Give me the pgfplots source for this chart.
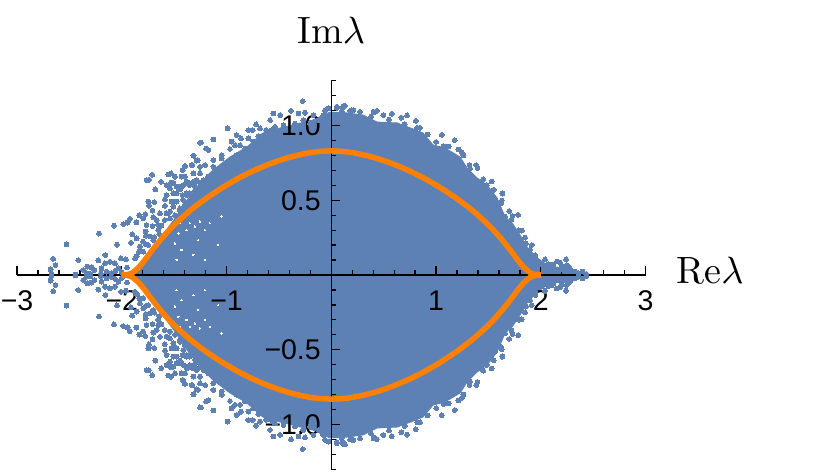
\documentclass[border=0pt]{standalone}
\usepackage{pgfplots}
\usepackage{pgfplotstable}
\usepackage{fontspec}
\newfontfamily\tickfont{Liberation Sans}
\pgfplotsset{compat=1.18}
\definecolor{mblue}{rgb}{0.368,0.507,0.710}
\definecolor{morange}{rgb}{1,0.5,0}
% outline of the solid part of the cloud (upper half plane; eigenvalues come in conjugate pairs)
\pgfplotstableread{
re im
2.440 0
2.278 0.047
2.087 0.054
1.964 0.114
1.868 0.187
1.801 0.268
1.725 0.348
1.658 0.388
1.582 0.515
1.486 0.602
1.391 0.649
1.295 0.716
1.229 0.789
1.085 0.849
0.971 0.870
0.875 0.950
0.780 0.977
0.627 1.017
0.436 1.023
0.302 1.070
0.150 1.084
-0.012 1.090
-0.175 1.037
-0.490 0.983
-0.652 0.950
-0.805 0.856
-0.967 0.789
-1.129 0.702
-1.253 0.615
-1.378 0.500
-1.500 0.370
-1.640 0.240
-1.800 0.090
-1.940 0
}\outline
% places inside the cloud where the background shows through
\pgfplotstableread{
re im
-1.349 0.346
-1.206 0.301
-1.270 0.234
-1.079 0.201
-1.460 0.279
-1.381 0.301
-1.492 0.212
-1.429 0.168
-1.476 0.101
-1.317 0.134
-1.206 0.101
-1.158 0.346
-1.047 0.391
-1.301 0.324
-1.445 0.346
-1.254 0.357
}\gaps
% individual eigenvalues outside the solid part
\pgfplotstableread{
re im
-2.527 0.205
-2.654 0.109
-2.632 0.067
-2.679 0.038
-2.415 0.100
-2.218 0.277
-2.075 0.330
-2.046 0.203
-2.157 0.134
-2.224 0.098
-2.161 0.078
-2.329 0.056
-2.368 0.034
-2.288 0.051
-2.262 0.034
-2.193 0.045
-2.113 0.089
-2.065 0.078
-2.008 0.112
-1.960 0.105
-1.874 0.112
-1.858 0.127
-1.912 0.216
-1.858 0.245
-1.900 0.272
-1.833 0.156
-1.795 0.156
-1.769 0.207
-1.769 0.261
-1.772 0.290
-1.986 0.341
-1.944 0.350
-1.922 0.375
-1.861 0.352
-1.833 0.399
-1.795 0.379
-1.776 0.408
-1.763 0.335
-1.706 0.430
-1.699 0.386
-1.667 0.368
-1.651 0.335
-1.706 0.328
-1.620 0.330
-1.690 0.252
-1.642 0.274
-1.747 0.491
-1.690 0.488
-1.741 0.464
-1.680 0.573
-1.763 0.636
-1.741 0.636
-1.709 0.671
-1.623 0.624
-1.556 0.673
-1.530 0.680
-1.572 0.602
-1.530 0.618
-1.492 0.658
-1.429 0.658
-1.419 0.702
-1.397 0.729
-1.327 0.736
-1.314 0.798
-1.273 0.769
-1.254 0.885
-1.508 0.613
-1.445 0.573
-1.381 0.624
-1.349 0.613
-1.476 0.546
-1.419 0.535
-1.572 0.535
-1.588 0.506
-1.524 0.491
-1.476 0.491
-1.413 0.502
-1.349 0.546
-1.301 0.591
-1.588 0.462
-1.508 0.457
-1.445 0.446
-1.540 0.424
-1.381 0.468
-1.317 0.491
-1.286 0.636
-1.254 0.680
-2.441 0.003
-2.336 0.011
-2.670 0.007
-2.145 0.022
-2.033 0.045
-2.065 0.025
-2.300 0.008
-2.200 0.010
-2.100 0.012
-2.000 0.020
-1.950 0.050
-1.795 0.223
-1.747 0.201
-1.699 0.234
-1.827 0.190
-1.588 0.368
-1.540 0.379
-1.492 0.401
-1.636 0.413
-1.572 0.413
-1.445 0.435
-1.397 0.468
-1.333 0.535
-1.286 0.546
-1.381 0.546
-1.508 0.546
-1.651 0.301
-1.731 0.257
-1.476 0.591
-1.429 0.591
-1.540 0.580
-0.273 1.164
-0.553 1.081
-0.489 1.070
-0.384 1.099
-0.314 1.081
-0.251 1.086
-0.989 0.981
-1.126 0.907
-1.244 0.887
-1.196 0.847
-1.317 0.798
-1.396 0.729
-1.419 0.702
-1.285 0.765
-1.174 0.836
-1.046 0.802
-1.126 0.769
-0.903 0.936
-0.792 0.970
-0.718 1.008
-0.750 0.970
-0.585 1.037
-0.680 0.981
-0.862 0.914
-0.951 0.892
-0.792 0.914
-0.696 0.930
-0.967 0.843
-0.871 0.869
-0.919 0.869
-1.333 0.736
-1.253 0.680
-1.205 0.736
-1.126 0.724
-1.046 0.780
-1.396 0.658
-1.317 0.624
-1.221 0.635
-1.301 0.568
-1.380 0.535
-1.412 0.602
-0.623 0.970
-0.569 0.970
-1.349 0.602
-1.269 0.624
-1.174 0.658
-1.253 0.724
-1.094 0.702
-1.030 0.736
-0.967 0.769
-0.903 0.802
-0.823 0.847
-0.744 0.892
-0.648 0.914
-0.537 0.992
-0.457 1.003
-0.346 1.014
-0.267 1.037
-0.203 1.014
-1.317 0.680
-1.158 0.591
-1.364 0.613
-1.094 0.646
-1.014 0.691
-0.935 0.724
-0.855 0.769
-0.060 1.103
-0.028 1.115
0.052 1.126
0.115 1.130
0.099 1.092
0.195 1.103
0.274 1.092
0.402 1.092
-0.171 1.070
-0.123 1.037
-0.076 1.070
0.052 1.119
0.109 1.121
0.131 1.132
0.109 1.081
0.179 1.099
0.211 1.103
0.402 1.088
0.434 1.099
0.497 1.070
0.577 1.079
0.669 1.052
0.723 1.068
0.806 1.032
0.847 0.985
1.054 0.938
1.178 0.903
1.213 0.840
1.245 0.822
1.070 0.863
1.382 0.736
1.395 0.715
1.325 0.713
1.531 0.626
1.484 0.602
1.633 0.544
1.633 0.547
1.563 0.509
1.627 0.498
1.697 0.428
1.729 0.395
1.783 0.402
1.659 0.391
1.818 0.297
1.850 0.250
1.913 0.201
1.897 0.168
1.945 0.134
2.040 0.105
2.009 0.074
2.152 0.090
2.241 0.105
2.200 0.061
2.120 0.056
2.184 0.083
2.279 0.045
2.327 0.023
2.397 0.023
2.432 0.007
2.056 0.045
2.072 0.074
2.359 0.011
2.247 0.067
1.450 0.640
1.320 0.735
1.260 0.800
1.120 0.860
1.000 0.890
0.920 0.940
0.820 0.985
0.700 1.010
0.550 1.040
0.380 1.060
1.550 0.570
1.620 0.480
1.720 0.370
1.790 0.300
1.860 0.210
1.950 0.120
2.100 0.070
2.200 0.040
}\points
% the orange curve
\pgfplotstableread{
re im
-2.000 0
-1.950 0.003
-1.900 0.015
-1.840 0.050
-1.780 0.100
-1.700 0.175
-1.600 0.260
-1.500 0.335
-1.350 0.430
-1.200 0.510
-1.050 0.580
-0.900 0.642
-0.750 0.695
-0.600 0.740
-0.450 0.777
-0.300 0.805
-0.150 0.824
0 0.830
0.150 0.824
0.300 0.805
0.450 0.777
0.600 0.740
0.750 0.695
0.900 0.642
1.050 0.580
1.200 0.510
1.350 0.430
1.500 0.335
1.600 0.260
1.700 0.175
1.780 0.100
1.840 0.050
1.900 0.015
1.950 0.003
2.000 0
}\curve
\begin{document}
\begin{tikzpicture}[x=1pt,y=1pt]
\path[use as bounding box] (0,0) rectangle (830,475);
\begin{axis}[
  at={(17pt,5.7pt)}, anchor=south west,
  scale only axis, width=628.6pt, height=388.6pt,
  xmin=-3, xmax=3, ymin=-1.3, ymax=1.3,
  clip=false,
  axis x line=center, axis y line=center,
  axis line style={-, black, line width=1.3pt},
  tick align=inside,
  tick style={black, line width=1.3pt},
  major tick length=9pt, minor tick length=5pt,
  xtick={-3,-2,-1,1,2,3},
  xticklabels={−3,−2,−1,1,2,3},
  minor xtick={-2.8,-2.6,-2.4,-2.2,-1.8,-1.6,-1.4,-1.2,-0.8,-0.6,-0.4,-0.2,0.2,0.4,0.6,0.8,1.2,1.4,1.6,1.8,2.2,2.4,2.6,2.8},
  ytick={-1,-0.5,0.5,1},
  yticklabels={−1.0,−0.5,0.5,1.0},
  minor ytick={-1.3,-1.2,-1.1,-0.9,-0.8,-0.7,-0.6,-0.4,-0.3,-0.2,-0.1,0.1,0.2,0.3,0.4,0.6,0.7,0.8,0.9,1.1,1.2,1.3},
  ticklabel style={font=\tickfont\fontsize{28.5}{30}\selectfont},
  xticklabel style={yshift=-12pt},
  yticklabel style={xshift=-7pt},
  axis on top,
]
\addplot[fill=mblue, draw=mblue, line width=1pt] table[x=re,y=im] {\outline};
\addplot[fill=mblue, draw=mblue, line width=1pt] table[x=re,y expr=-\thisrow{im}] {\outline};
\addplot[only marks, white, mark=*, mark size=0.7pt, mark options={draw=white, fill=white, line width=0pt}] table[x=re,y=im] {\gaps};
\addplot[only marks, white, mark=*, mark size=0.7pt, mark options={draw=white, fill=white, line width=0pt}] table[x=re,y expr=-\thisrow{im}] {\gaps};
\addplot[only marks, mblue, mark=*, mark size=2.4pt, mark options={draw=mblue, fill=mblue, line width=0pt}] table[x=re,y=im] {\points};
\addplot[only marks, mblue, mark=*, mark size=2.4pt, mark options={draw=mblue, fill=mblue, line width=0pt}] table[x=re,y expr=-\thisrow{im}] {\points};
\node[scale=3.8, anchor=base] at (axis cs:0,1.552) {$\mathrm{Im}\lambda$};
\node[scale=3.8, anchor=base] at (axis cs:3.615,-0.060) {$\mathrm{Re}\lambda$};
\end{axis}
\begin{axis}[
  at={(17pt,5.7pt)}, anchor=south west,
  scale only axis, width=628.6pt, height=388.6pt,
  xmin=-3, xmax=3, ymin=-1.3, ymax=1.3,
  hide axis, clip=false,
]
\addplot[morange, line width=5.5pt, smooth, tension=0.5] table[x=re,y=im] {\curve};
\addplot[morange, line width=5.5pt, smooth, tension=0.5] table[x=re,y expr=-\thisrow{im}] {\curve};
\end{axis}
\end{tikzpicture}
\end{document}
